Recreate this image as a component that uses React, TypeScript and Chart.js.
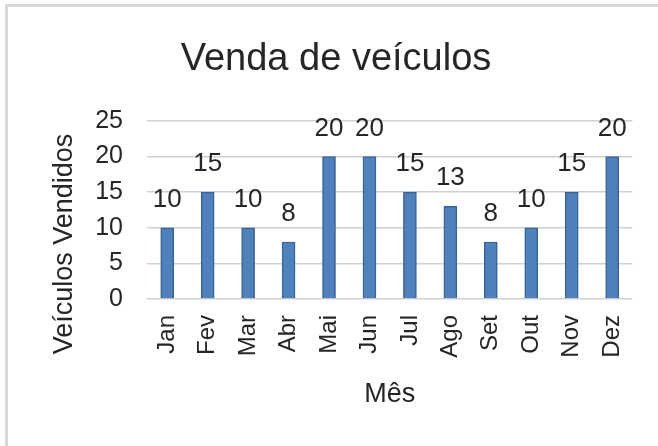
import React, { useEffect, useRef } from "react";
import { Chart, registerables } from "chart.js";

Chart.register(...registerables);

const months = ["Jan", "Fev", "Mar", "Abr", "Mai", "Jun", "Jul", "Ago", "Set", "Out", "Nov", "Dez"];
const sales = [10, 15, 10, 8, 20, 20, 15, 13, 8, 10, 15, 20];
const yMin = 0;
const yMax = 25;
const yStep = 5;
const chartTitle = "Venda de veículos";
const yTitle = "Veículos Vendidos";
const xTitle = "Mês";

const FONT = "'Liberation Sans', Arial, sans-serif";
const TEXT = "#262626";

const textPlugin = {
  id: "customText",
  afterDraw(chart: any) {
    const ctx = chart.ctx;
    const area = chart.chartArea;
    ctx.save();
    ctx.fillStyle = TEXT;
    // title
    ctx.font = `38px ${FONT}`;
    ctx.textAlign = "center";
    ctx.textBaseline = "alphabetic";
    ctx.fillText(chartTitle, 336, 70);
    // x title
    ctx.font = `27px ${FONT}`;
    ctx.textBaseline = "middle";
    ctx.fillText(xTitle, (area.left + area.right) / 2, 395);
    // y title
    ctx.save();
    ctx.translate(65, 244);
    ctx.rotate(-Math.PI / 2);
    ctx.fillText(yTitle, 0, 0);
    ctx.restore();
    // data labels
    ctx.font = `26px ${FONT}`;
    ctx.textBaseline = "alphabetic";
    const meta = chart.getDatasetMeta(0);
    meta.data.forEach((el: any, i: number) => {
      ctx.fillText(String(chart.data.datasets[0].data[i]), el.x, el.y - 21);
    });
    ctx.restore();
  },
};

export default function App() {
  const ref = useRef<HTMLCanvasElement>(null);
  useEffect(() => {
    if (!ref.current) return;
    const chart = new Chart(ref.current, {
      type: "bar",
      data: {
        labels: months,
        datasets: [
          {
            data: sales,
            backgroundColor: "#4f81bd",
            borderColor: "#35659e",
            borderWidth: 1.5,
            barThickness: 13,
          },
        ],
      },
      options: {
        animation: false,
        responsive: false,
        maintainAspectRatio: false,
        layout: { padding: { top: 121, right: 25, left: 0, bottom: 0 } },
        plugins: {
          legend: { display: false },
          title: { display: false },
          tooltip: { enabled: false },
        },
        scales: {
          x: {
            afterFit(scale: any) {
              scale.height = 147;
            },
            grid: { display: false, drawTicks: false },
            border: { display: false },
            ticks: {
              autoSkip: false,
              minRotation: 90,
              maxRotation: 90,
              padding: 16,
              color: TEXT,
              font: { family: FONT, size: 24 },
            },
          },
          y: {
            min: yMin,
            max: yMax,
            afterFit(scale: any) {
              scale.width = 147;
            },
            grid: { color: "#d0d0d0", lineWidth: 1.5, drawTicks: false },
            border: { display: false },
            ticks: {
              stepSize: yStep,
              padding: 24,
              color: TEXT,
              font: { family: FONT, size: 25 },
            },
          },
        },
      },
      plugins: [textPlugin],
    });
    return () => chart.destroy();
  }, []);

  return (
    <div style={{ position: "fixed", left: 0, top: 0, width: 658, height: 446, overflow: "hidden", background: "#fff" }}>
      <div
        style={{
          position: "absolute",
          left: 5,
          top: 4,
          width: 700,
          height: 500,
          borderTop: "3px solid #d9d9d9",
          borderLeft: "3px solid #d9d9d9",
        }}
      />
      <canvas ref={ref} width={658} height={446} style={{ position: "absolute", left: 0, top: 0, width: 658, height: 446 }} />
    </div>
  );
}
